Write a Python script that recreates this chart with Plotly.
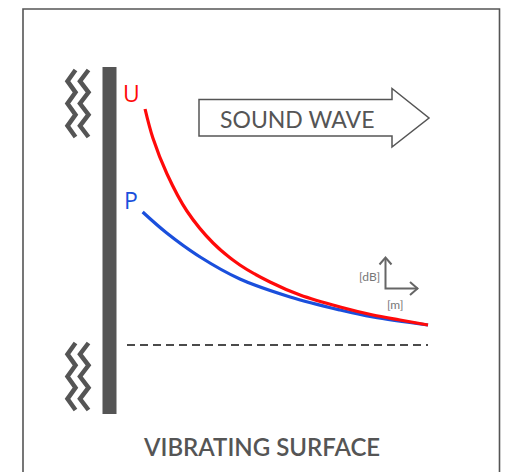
import plotly.graph_objects as go

W, H = 518, 472

# ---- data (distance in arbitrary units, level in dB above reference) ----
u_distance = [0.60, 0.86, 1.33, 1.99, 2.86, 3.75, 4.75, 5.75, 7.08, 8.17, 9.07, 10.0]
u_level = [23.6, 20.7, 17.1, 13.4, 10.2, 8.0, 6.3, 5.0, 3.8, 3.0, 2.5, 2.0]
p_distance = [0.52, 1.32, 2.43, 3.75, 5.42, 7.08, 8.17, 10.0]
p_level = [13.3, 11.2, 8.8, 6.6, 4.8, 3.5, 2.8, 2.0]
ref_distance = [0.0, 10.0]
ref_level = [0.0, 0.0]

GRAY = "#555555"
RED = "#ff0a0a"
BLUE = "#1a4fdc"


def px(x):
    return x / W


def py(y):
    return 1 - y / H


fig = go.Figure()
fig.add_trace(go.Scatter(x=ref_distance, y=ref_level, mode="lines",
                         line=dict(color="#111111", width=1.6, dash="8px,5px"),
                         hoverinfo="skip"))
fig.add_trace(go.Scatter(x=p_distance, y=p_level, mode="lines", line_shape="spline",
                         line=dict(color=BLUE, width=3.2), hoverinfo="skip"))
fig.add_trace(go.Scatter(x=u_distance, y=u_level, mode="lines", line_shape="spline",
                         line=dict(color=RED, width=3.2), hoverinfo="skip"))

shapes = []
# border
shapes.append(dict(type="rect", xref="paper", yref="paper", x0=px(23), x1=px(499.5),
                   y0=py(9), y1=py(490), line=dict(color=GRAY, width=1.6),
                   fillcolor="rgba(0,0,0,0)", layer="below"))
# wall
shapes.append(dict(type="rect", xref="paper", yref="paper", x0=px(102.5), x1=px(116.5),
                   y0=py(67), y1=py(414), line=dict(width=0), fillcolor=GRAY))


def zigzag(xl, xr, ytop, ybot, n=6):
    step = (ybot - ytop) / n
    pts = []
    for i in range(n + 1):
        x = xr if i % 2 == 0 else xl
        pts.append((x, ytop + i * step))
    d = "M " + " L ".join(f"{px(a):.5f},{py(b):.5f}" for a, b in pts)
    return dict(type="path", xref="paper", yref="paper", path=d,
                line=dict(color=GRAY, width=4.5))


for (yt, yb) in [(70, 137), (343, 410)]:
    shapes.append(zigzag(67.5, 75.5, yt, yb))
    shapes.append(zigzag(80, 88.5, yt, yb))

# sound wave arrow outline
arrow_pts = [(199, 99.5), (392, 99.5), (392, 88.5), (429, 118), (392, 147), (392, 136),
             (199, 136)]
d = "M " + " L ".join(f"{px(a):.5f},{py(b):.5f}" for a, b in arrow_pts) + " Z"
shapes.append(dict(type="path", xref="paper", yref="paper", path=d,
                   line=dict(color=GRAY, width=1.5), fillcolor="white"))

# mini axes
AX = "#666666"
for pts in [[(385.5, 258), (385.5, 288.5), (418, 288.5)],
            [(379.5, 264.5), (385.5, 257.5), (391.5, 264.5)],
            [(410, 282), (417.5, 288.5), (410, 295)]]:
    d = "M " + " L ".join(f"{px(a):.5f},{py(b):.5f}" for a, b in pts)
    shapes.append(dict(type="path", xref="paper", yref="paper", path=d,
                       line=dict(color=AX, width=2)))

annotations = [
    dict(text="U", x=px(131), y=py(93), font=dict(family="Open Sans", size=23, color=RED)),
    dict(text="P", x=px(131), y=py(200), font=dict(family="Open Sans", size=23, color=BLUE)),
    dict(text="SOUND WAVE", x=px(296.5), y=py(118.5),
         font=dict(family="Lato", size=23, color=GRAY)),
    dict(text="VIBRATING SURFACE", x=px(261.5), y=py(446),
         font=dict(family="Lato", size=24, color=GRAY, weight=600)),
    dict(text="[dB]", x=px(369), y=py(276.5), font=dict(family="Lato", size=12, color="#777777")),
    dict(text="[m]", x=px(395), y=py(304), font=dict(family="Lato", size=12, color="#777777")),
]
for a in annotations:
    a.update(xref="paper", yref="paper", showarrow=False, xanchor="center", yanchor="middle")

fig.update_layout(
    width=W, height=H, margin=dict(l=0, r=0, t=0, b=0),
    paper_bgcolor="white", plot_bgcolor="white", showlegend=False,
    xaxis=dict(range=[-127 / 30.1, (W - 127) / 30.1], visible=False, fixedrange=True),
    yaxis=dict(range=[(345 - H) / 10, 345 / 10], visible=False, fixedrange=True),
    shapes=shapes, annotations=annotations,
)
fig.write_html("out.html", config={"displayModeBar": False},
               post_script="document.body.style.margin='0';document.body.style.overflow='hidden';")
